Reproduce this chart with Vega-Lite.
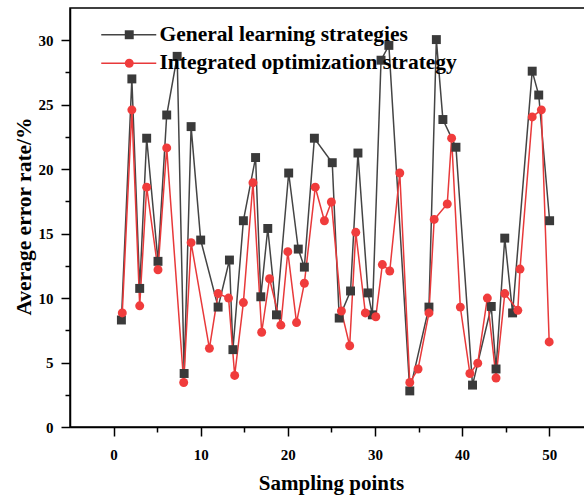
{
  "$schema": "https://vega.github.io/schema/vega-lite/v6.json",
  "width": 517,
  "height": 419,
  "autosize": {"type": "none"},
  "padding": {"left": 70, "top": 8, "right": 0, "bottom": 68},
  "config": {
    "view": {"stroke": "#000", "strokeWidth": 1.5},
    "font": "Liberation Serif",
    "axis": {"domainColor": "#000", "domainWidth": 1.5, "tickColor": "#000", "tickWidth": 1.5, "labelColor": "#000", "titleColor": "#000", "labelFont": "Liberation Serif", "titleFont": "Liberation Serif", "grid": false}
  },
  "data": {
    "values": [
      {"s": "General learning strategies", "x": 0.9, "y": 8.3},
      {"s": "General learning strategies", "x": 2.1, "y": 27.0},
      {"s": "General learning strategies", "x": 3.0, "y": 10.75},
      {"s": "General learning strategies", "x": 3.8, "y": 22.4},
      {"s": "General learning strategies", "x": 5.1, "y": 12.85},
      {"s": "General learning strategies", "x": 6.1, "y": 24.2},
      {"s": "General learning strategies", "x": 7.3, "y": 28.75},
      {"s": "General learning strategies", "x": 8.1, "y": 4.15},
      {"s": "General learning strategies", "x": 8.9, "y": 23.3},
      {"s": "General learning strategies", "x": 10.0, "y": 14.5},
      {"s": "General learning strategies", "x": 12.0, "y": 9.3},
      {"s": "General learning strategies", "x": 13.3, "y": 12.95},
      {"s": "General learning strategies", "x": 13.7, "y": 6.0},
      {"s": "General learning strategies", "x": 14.9, "y": 16.0},
      {"s": "General learning strategies", "x": 16.3, "y": 20.9},
      {"s": "General learning strategies", "x": 16.9, "y": 10.1},
      {"s": "General learning strategies", "x": 17.7, "y": 15.4},
      {"s": "General learning strategies", "x": 18.7, "y": 8.7},
      {"s": "General learning strategies", "x": 20.1, "y": 19.7},
      {"s": "General learning strategies", "x": 21.2, "y": 13.8},
      {"s": "General learning strategies", "x": 21.9, "y": 12.4},
      {"s": "General learning strategies", "x": 23.05, "y": 22.4},
      {"s": "General learning strategies", "x": 25.1, "y": 20.5},
      {"s": "General learning strategies", "x": 25.9, "y": 8.45},
      {"s": "General learning strategies", "x": 27.2, "y": 10.55},
      {"s": "General learning strategies", "x": 28.05, "y": 21.25},
      {"s": "General learning strategies", "x": 29.2, "y": 10.4},
      {"s": "General learning strategies", "x": 29.7, "y": 8.7},
      {"s": "General learning strategies", "x": 30.7, "y": 28.45},
      {"s": "General learning strategies", "x": 31.6, "y": 29.6},
      {"s": "General learning strategies", "x": 34.0, "y": 2.8},
      {"s": "General learning strategies", "x": 36.2, "y": 9.3},
      {"s": "General learning strategies", "x": 37.05, "y": 30.05},
      {"s": "General learning strategies", "x": 37.8, "y": 23.85},
      {"s": "General learning strategies", "x": 39.3, "y": 21.7},
      {"s": "General learning strategies", "x": 41.2, "y": 3.25},
      {"s": "General learning strategies", "x": 43.35, "y": 9.35},
      {"s": "General learning strategies", "x": 43.9, "y": 4.5},
      {"s": "General learning strategies", "x": 44.9, "y": 14.65},
      {"s": "General learning strategies", "x": 45.8, "y": 8.85},
      {"s": "General learning strategies", "x": 48.05, "y": 27.6},
      {"s": "General learning strategies", "x": 48.8, "y": 25.75},
      {"s": "General learning strategies", "x": 50.05, "y": 16.0},
      {"s": "Integrated optimization strategy", "x": 1.0, "y": 8.85},
      {"s": "Integrated optimization strategy", "x": 2.1, "y": 24.6},
      {"s": "Integrated optimization strategy", "x": 3.0, "y": 9.4},
      {"s": "Integrated optimization strategy", "x": 3.8, "y": 18.6},
      {"s": "Integrated optimization strategy", "x": 5.1, "y": 12.2},
      {"s": "Integrated optimization strategy", "x": 6.1, "y": 21.65},
      {"s": "Integrated optimization strategy", "x": 8.05, "y": 3.45},
      {"s": "Integrated optimization strategy", "x": 8.9, "y": 14.3},
      {"s": "Integrated optimization strategy", "x": 11.0, "y": 6.1},
      {"s": "Integrated optimization strategy", "x": 12.0, "y": 10.35},
      {"s": "Integrated optimization strategy", "x": 13.2, "y": 10.0},
      {"s": "Integrated optimization strategy", "x": 13.9, "y": 4.0},
      {"s": "Integrated optimization strategy", "x": 14.9, "y": 9.65},
      {"s": "Integrated optimization strategy", "x": 16.0, "y": 18.95},
      {"s": "Integrated optimization strategy", "x": 17.0, "y": 7.35},
      {"s": "Integrated optimization strategy", "x": 17.9, "y": 11.5},
      {"s": "Integrated optimization strategy", "x": 19.2, "y": 7.9},
      {"s": "Integrated optimization strategy", "x": 20.0, "y": 13.6},
      {"s": "Integrated optimization strategy", "x": 21.0, "y": 8.1},
      {"s": "Integrated optimization strategy", "x": 21.9, "y": 11.15},
      {"s": "Integrated optimization strategy", "x": 23.15, "y": 18.6},
      {"s": "Integrated optimization strategy", "x": 24.2, "y": 16.0},
      {"s": "Integrated optimization strategy", "x": 25.0, "y": 17.45},
      {"s": "Integrated optimization strategy", "x": 26.15, "y": 9.0},
      {"s": "Integrated optimization strategy", "x": 27.1, "y": 6.3},
      {"s": "Integrated optimization strategy", "x": 27.8, "y": 15.1},
      {"s": "Integrated optimization strategy", "x": 28.9, "y": 8.85},
      {"s": "Integrated optimization strategy", "x": 30.1, "y": 8.55},
      {"s": "Integrated optimization strategy", "x": 30.85, "y": 12.6},
      {"s": "Integrated optimization strategy", "x": 31.7, "y": 12.1},
      {"s": "Integrated optimization strategy", "x": 32.85, "y": 19.7},
      {"s": "Integrated optimization strategy", "x": 34.0, "y": 3.45},
      {"s": "Integrated optimization strategy", "x": 34.95, "y": 4.5},
      {"s": "Integrated optimization strategy", "x": 36.2, "y": 8.85},
      {"s": "Integrated optimization strategy", "x": 36.8, "y": 16.1},
      {"s": "Integrated optimization strategy", "x": 38.3, "y": 17.3},
      {"s": "Integrated optimization strategy", "x": 38.8, "y": 22.4},
      {"s": "Integrated optimization strategy", "x": 39.8, "y": 9.3},
      {"s": "Integrated optimization strategy", "x": 40.9, "y": 4.15},
      {"s": "Integrated optimization strategy", "x": 41.8, "y": 4.95},
      {"s": "Integrated optimization strategy", "x": 42.9, "y": 10.0},
      {"s": "Integrated optimization strategy", "x": 43.9, "y": 3.8},
      {"s": "Integrated optimization strategy", "x": 44.9, "y": 10.35},
      {"s": "Integrated optimization strategy", "x": 46.4, "y": 9.05},
      {"s": "Integrated optimization strategy", "x": 46.65, "y": 12.25},
      {"s": "Integrated optimization strategy", "x": 48.05, "y": 24.05},
      {"s": "Integrated optimization strategy", "x": 49.1, "y": 24.6},
      {"s": "Integrated optimization strategy", "x": 50.0, "y": 6.6}
    ]
  },
  "layer": [
    {
      "mark": {"type": "line", "strokeWidth": 1.5, "clip": true},
      "encoding": {
        "x": {
          "field": "x", "type": "quantitative",
          "scale": {"domain": [-5, 54.34], "nice": false, "zero": false},
          "axis": {"orient": "bottom", "values": [0, 10, 20, 30, 40, 50], "tickSize": 9, "labelPadding": 11, "labelFontSize": 15, "labelFontWeight": "bold", "labelFlush": false, "title": "Sampling points", "titleFontSize": 21, "titleFontWeight": "bold", "titleX": 261, "titleY": 62, "titleBaseline": "alphabetic"}
        },
        "y": {
          "field": "y", "type": "quantitative",
          "scale": {"domain": [0, 32.5], "nice": false, "zero": true},
          "axis": {"orient": "left", "values": [0, 5, 10, 15, 20, 25, 30], "tickSize": 9, "labelPadding": 8, "labelFontSize": 15, "labelFontWeight": "bold", "labelFlush": false, "title": "Average error rate/%", "titleFontSize": 21.5, "titleFontWeight": "bold", "titleX": -46, "titleY": 208, "titleBaseline": "middle", "titleAngle": -90}
        },
        "stroke": {
          "field": "s", "type": "nominal",
          "scale": {"domain": ["General learning strategies", "Integrated optimization strategy"], "range": ["#444444", "#e8393a"]},
          "legend": {"orient": "none", "legendX": 48, "legendY": 16, "title": null, "symbolType": "M-5.5,0H5.5", "symbolSize": 100, "symbolStrokeWidth": 1.5, "labelFont": "Liberation Serif", "labelFontSize": 21.5, "labelFontWeight": "bold", "labelColor": "#000", "labelOffset": 20, "rowPadding": 5.5, "labelLimit": 400}
        }
      }
    },
    {
      "mark": {"type": "point", "filled": true, "opacity": 1, "size": 80, "clip": true},
      "encoding": {
        "x": {
          "field": "x", "type": "quantitative",
          "axis": {"orient": "bottom", "values": [5, 15, 25, 35, 45], "tickSize": 5, "labels": false, "domain": false, "title": null}
        },
        "y": {
          "field": "y", "type": "quantitative",
          "axis": {"orient": "left", "values": [2.5, 7.5, 12.5, 17.5, 22.5, 27.5], "tickSize": 5, "labels": false, "domain": false, "title": null}
        },
        "color": {
          "field": "s", "type": "nominal",
          "scale": {"range": ["#3a3a3a", "#f03c3c"]},
          "legend": {"orient": "none", "legendX": 48, "legendY": 16, "title": null, "symbolSize": 80, "symbolOffset": 0.5, "labelFont": "Liberation Serif", "labelFontSize": 21.5, "labelFontWeight": "bold", "labelOpacity": 0, "labelOffset": 20, "rowPadding": 5.5, "labelLimit": 400}
        },
        "shape": {
          "field": "s", "type": "nominal",
          "scale": {"range": ["square", "circle"]},
          "legend": {"orient": "none", "legendX": 48, "legendY": 16, "title": null, "symbolSize": 80, "symbolOffset": 0.5, "labelFont": "Liberation Serif", "labelFontSize": 21.5, "labelFontWeight": "bold", "labelOpacity": 0, "labelOffset": 20, "rowPadding": 5.5, "labelLimit": 400}
        }
      }
    }
  ],
  "resolve": {"axis": {"x": "independent", "y": "independent"}}
}
